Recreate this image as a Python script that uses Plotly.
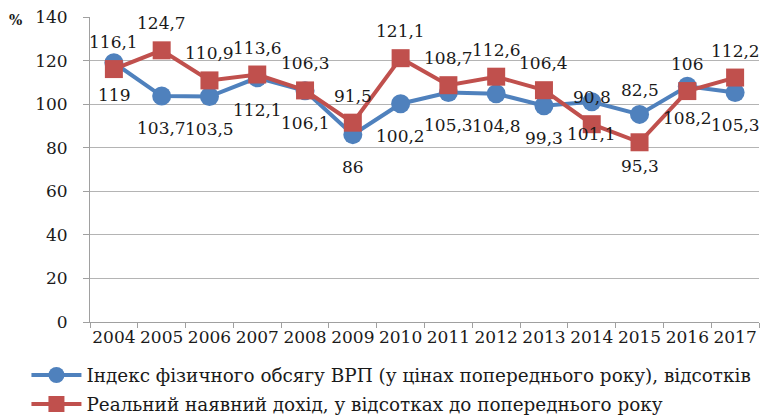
import plotly.graph_objects as go

years = ["2004", "2005", "2006", "2007", "2008", "2009", "2010",
         "2011", "2012", "2013", "2014", "2015", "2016", "2017"]
gdp_index = [119, 103.7, 103.5, 112.1, 106.1, 86, 100.2,
             105.3, 104.8, 99.3, 101.1, 95.3, 108.2, 105.3]
real_income = [116.1, 124.7, 110.9, 113.6, 106.3, 91.5, 121.1,
               108.7, 112.6, 106.4, 90.8, 82.5, 106, 112.2]
gdp_labels = ["119", "103,7", "103,5", "112,1", "106,1", "86", "100,2",
              "105,3", "104,8", "99,3", "101,1", "95,3", "108,2", "105,3"]
income_labels = ["116,1", "124,7", "110,9", "113,6", "106,3", "91,5", "121,1",
                 "108,7", "112,6", "106,4", "90,8", "82,5", "106", "112,2"]
name_gdp = "Індекс фізичного обсягу ВРП (у цінах попереднього року), відсотків"
name_income = "Реальний наявний дохід, у відсотках до попереднього року"

BLUE = "#4f81bd"
RED = "#c0504d"
FONT = "DejaVu Serif"
TXT = "#1a1a1a"

fig = go.Figure()
fig.add_trace(go.Scatter(
    x=years, y=gdp_index, name=name_gdp, mode="lines+markers",
    line=dict(color=BLUE, width=4),
    marker=dict(symbol="circle", size=19, color=BLUE),
    cliponaxis=False, legend="legend"))
fig.add_trace(go.Scatter(
    x=years, y=real_income, name=name_income, mode="lines+markers",
    line=dict(color=RED, width=4),
    marker=dict(symbol="square", size=18, color=RED),
    cliponaxis=False, legend="legend2"))

# label offsets (pixels): red above, blue below; 2015 labels pushed further out
red_shift = [27] * len(years)
blue_shift = [-32] * len(years)
red_shift[11] = 52
blue_shift[11] = -52

annotations = []
for i in range(len(years)):
    annotations.append(dict(x=i, y=real_income[i], text=income_labels[i],
                            xref="x", yref="y", showarrow=False, yshift=red_shift[i],
                            font=dict(family=FONT, size=17, color=TXT)))
    annotations.append(dict(x=i, y=gdp_index[i], text=gdp_labels[i],
                            xref="x", yref="y", showarrow=False, yshift=blue_shift[i],
                            font=dict(family=FONT, size=17, color=TXT)))
annotations.append(dict(x=-0.111, y=0.99, xref="paper", yref="paper", text="<b>%</b>",
                        showarrow=False, xanchor="center", yanchor="middle",
                        font=dict(family=FONT, size=14, color=TXT)))

fig.update_layout(
    width=763, height=417,
    margin=dict(l=90, r=4, t=17, b=95, autoexpand=False),
    paper_bgcolor="white", plot_bgcolor="white",
    font=dict(family=FONT, size=17, color=TXT),
    showlegend=True,
    legend=dict(x=-0.095, y=-0.174, xanchor="left", yanchor="middle",
                font=dict(family=FONT, size=18.4, color=TXT),
                bgcolor="rgba(0,0,0,0)", itemwidth=50),
    legend2=dict(x=-0.095, y=-0.269, xanchor="left", yanchor="middle",
                 font=dict(family=FONT, size=18.4, color=TXT),
                 bgcolor="rgba(0,0,0,0)", itemwidth=50),
    annotations=annotations,
)
fig.update_xaxes(type="category", range=[-0.5, 13.5], showline=True,
                 linecolor="#a0a0a0", linewidth=1, ticks="outside", tickson="boundaries",
                 ticklen=5, tickcolor="#a0a0a0", showgrid=False, tickangle=0,
                 tickfont=dict(family=FONT, size=17, color=TXT))
fig.update_yaxes(range=[0, 140], dtick=20, showline=True, linecolor="#a0a0a0",
                 ticks="outside", ticklen=6, tickcolor="#a0a0a0",
                 showgrid=True, gridcolor="#b4b4b4", gridwidth=1,
                 tickfont=dict(family=FONT, size=17, color=TXT),
                 ticklabelstandoff=12, zeroline=False)

fig.write_html("out.html", post_script="document.body.style.margin='0';",
               config={"displayModeBar": False})
